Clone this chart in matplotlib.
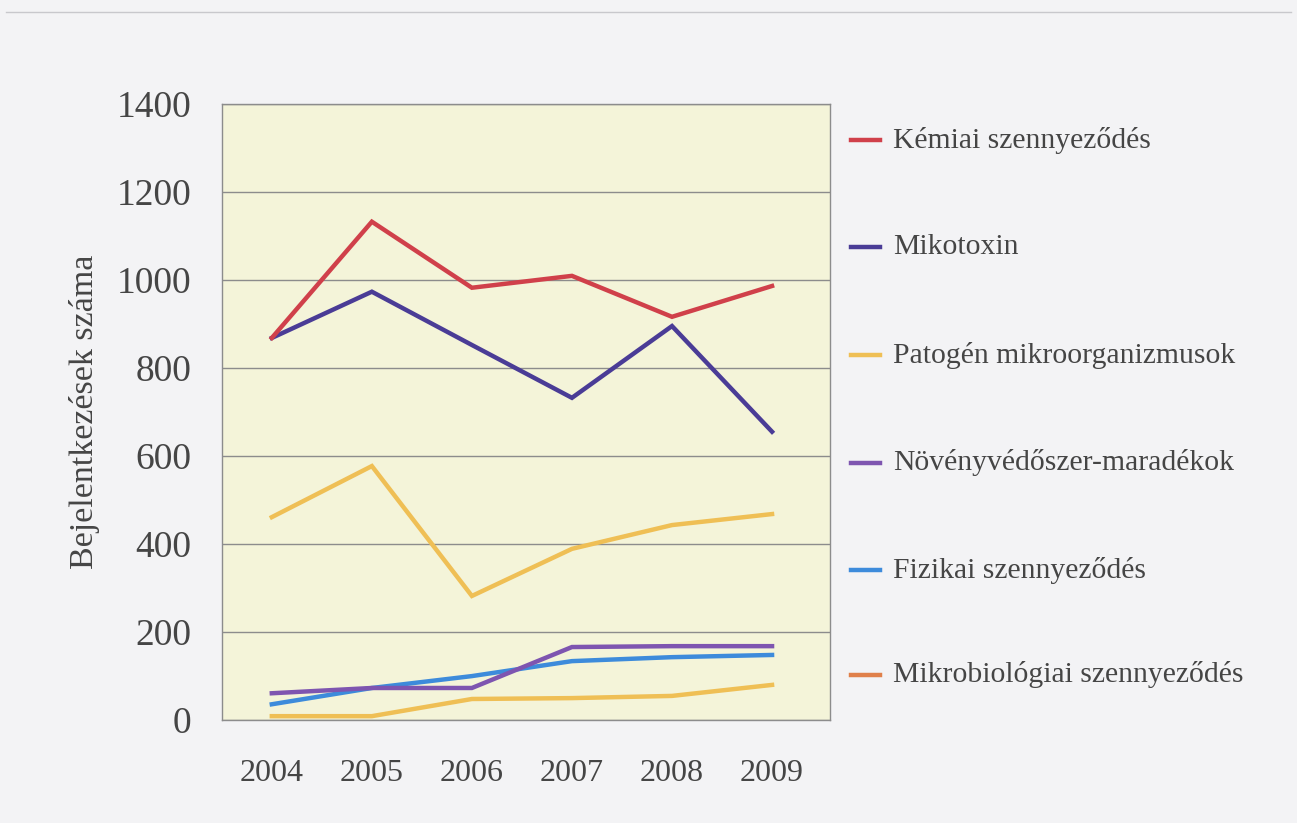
import matplotlib
matplotlib.use('Agg')
import matplotlib.pyplot as plt
from matplotlib.lines import Line2D

# data
years = [2004, 2005, 2006, 2007, 2008, 2009]
kemiai = [868, 1132, 982, 1009, 916, 986]
mikotoxin = [868, 973, 852, 732, 895, 655]
patogen = [461, 577, 282, 389, 443, 468]
novenyvedo = [61, 73, 73, 166, 168, 168]
fizikai = [36, 73, 100, 134, 143, 148]
mikrobio = [9, 9, 48, 50, 55, 80]

labels = ['Kémiai szennyeződés', 'Mikotoxin', 'Patogén mikroorganizmusok',
          'Növényvédőszer-maradékok', 'Fizikai szennyeződés',
          'Mikrobiológiai szennyeződés']
line_colors = ['#D0404A', '#4A3C96', '#EFBF55', '#7E55B0', '#3D8BDB', '#EFBF55']
legend_colors = ['#D0404A', '#4A3C96', '#EFBF55', '#7E55B0', '#3D8BDB', '#E0804A']
yticks = [0, 200, 400, 600, 800, 1000, 1200, 1400]

plt.rcParams['font.family'] = ['Liberation Serif', 'DejaVu Serif']
txt = '#454545'

fig = plt.figure(figsize=(12.97, 8.23), dpi=100)
fig.patch.set_facecolor('#F3F3F5')
ax = fig.add_axes([0.171, 0.125, 0.469, 0.749])
ax.set_facecolor('#F4F4D9')

series = [kemiai, mikotoxin, patogen, novenyvedo, fizikai, mikrobio]
# draw bottom ones first so the top series sit above
for vals, c in reversed(list(zip(series, line_colors))):
    ax.plot(years, vals, color=c, lw=3.2, solid_joinstyle='miter')

ax.set_xlim(2003.5, 2009.58)
ax.set_ylim(0, 1400)
ax.set_yticks(yticks)
ax.set_xticks(years)
ax.set_xticklabels([str(y) for y in years])
ax.grid(axis='y', color='#8C8C8C', lw=1.0)
ax.set_axisbelow(True)
for s in ax.spines.values():
    s.set_color('#8C8C8C')
    s.set_linewidth(1.0)
ax.tick_params(axis='both', length=0, colors=txt)
ax.tick_params(axis='y', labelsize=27, pad=22)
ax.tick_params(axis='x', labelsize=23, pad=28)
ax.set_ylabel('Bejelentkezések száma', fontsize=24.5, color=txt, labelpad=12)

# legend drawn by hand, evenly spaced down the right side
W, H = 1297.0, 823.0
rows = [140, 247, 355, 463, 570, 675]
for lab, c, yp in zip(labels, legend_colors, rows):
    fy = 1 - yp / H
    fig.add_artist(Line2D([851 / W, 880 / W], [fy, fy], color=c, lw=3.2))
    fig.text(893 / W, fy, lab, fontsize=21.3, color=txt, va='center', ha='left')

# thin frame line from the scanned page
fig.add_artist(Line2D([6 / W, 1 - 6 / W], [1 - 12 / H, 1 - 12 / H], color='#C8C8CC', lw=1))

fig.savefig('out.png', dpi=100, facecolor=fig.get_facecolor())
